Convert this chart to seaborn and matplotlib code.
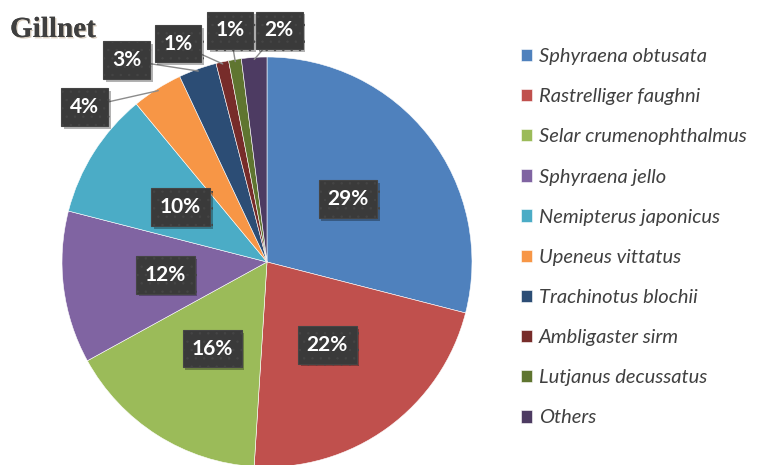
import matplotlib
matplotlib.use("Agg")
import matplotlib.pyplot as plt
import matplotlib.patheffects as pe
import seaborn as sns
import numpy as np

# data
species = ["Sphyraena obtusata", "Rastrelliger faughni", "Selar crumenophthalmus",
           "Sphyraena jello", "Nemipterus japonicus", "Upeneus vittatus",
           "Trachinotus blochii", "Ambligaster sirm", "Lutjanus decussatus", "Others"]
shares = [29, 22, 16, 12, 10, 4, 3, 1, 1, 2]
pct_labels = ["29%", "22%", "16%", "12%", "10%", "4%", "3%", "1%", "1%", "2%"]

# Excel 2010 palette
colors = ["#4F81BD", "#C0504D", "#9BBB59", "#8064A2", "#4BACC6",
          "#F79646", "#2C4D75", "#772C2A", "#5F7530", "#4D3B62"]

sns.set_theme(style="white")
plt.rcParams['font.family'] = ['Lato', 'DejaVu Sans']
plt.rcParams['hatch.linewidth'] = 0.5

fig = plt.figure(figsize=(7.59, 4.65), dpi=100)
ax = fig.add_axes([0, 0, 1, 1])

wedges, _ = ax.pie(shares, colors=colors, startangle=90, counterclock=False,
                   radius=1, wedgeprops=dict(edgecolor="white", linewidth=0.4))

# pie centre at (267, 262) px, radius 205 px
ax.set_xlim(-267 / 205, (759 - 267) / 205)
ax.set_ylim(-(465 - 262) / 205, 262 / 205)
ax.set_aspect("auto")
ax.axis("off")

box = dict(boxstyle="square,pad=0.42", facecolor="#3a3a3a", edgecolor="#454545",
           hatch="..", linewidth=0.8)
shadow = [pe.withSimplePatchShadow(offset=(2, -2), shadow_rgbFace="#000000", alpha=0.3)]

# outer label spots for the small slices (pie units)
outer_pos = {5: (-0.89, 0.755), 6: (-0.685, 0.985), 7: (-0.435, 1.065),
             8: (-0.18, 1.13), 9: (0.06, 1.13)}

for i, w in enumerate(wedges):
    mid = np.deg2rad((w.theta1 + w.theta2) / 2)
    if i in outer_pos:
        tip = (np.cos(mid) * 0.99, np.sin(mid) * 0.99)
        t = ax.annotate(pct_labels[i], xy=tip, xytext=outer_pos[i],
                        ha="center", va="center", fontsize=15, fontweight="bold",
                        color="white", bbox=box,
                        arrowprops=dict(arrowstyle="-", color="#8c8c8c", lw=1,
                                        shrinkA=0, shrinkB=0))
    else:
        t = ax.text(np.cos(mid) * 0.5, np.sin(mid) * 0.5, pct_labels[i],
                    ha="center", va="center", fontsize=15, fontweight="bold",
                    color="white", bbox=box)
    t.get_bbox_patch().set_path_effects(shadow)

leg = fig.legend(wedges, species, loc="upper left", bbox_to_anchor=(513 / 759, 1 - 40 / 465),
                 frameon=False, prop=dict(family="Lato", style="italic", size=14.5),
                 labelspacing=1.15, handlelength=0.56, handleheight=0.56,
                 handletextpad=0.32, borderaxespad=0)
for txt in leg.get_texts():
    txt.set_color("#404040")

fig.text(10 / 759, 1 - 37 / 465, "Gillnet", ha="left", va="baseline",
         fontsize=21, fontweight="bold", family="Liberation Serif", color="#3f3f3f",
         path_effects=[pe.withSimplePatchShadow(offset=(1, -1), shadow_rgbFace="#b09878", alpha=0.45),
                       pe.Normal()])

fig.savefig("out.png", dpi=100)
